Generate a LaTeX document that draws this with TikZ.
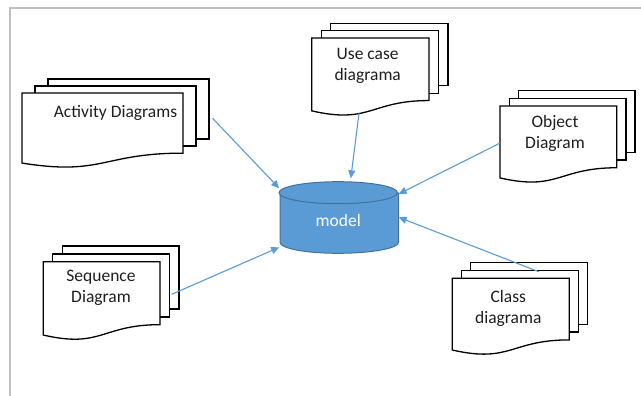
\documentclass[tikz,border=0pt]{standalone}
\usepackage{fontspec}
\setmainfont{Carlito}
\usetikzlibrary{arrows.meta}

\definecolor{modelblue}{HTML}{5B9BD5}
\definecolor{modeledge}{HTML}{41719C}
\definecolor{framegray}{HTML}{BFBFBF}
\definecolor{inkgray}{HTML}{1F1F1F}

\tikzset{
  page/.style={draw=black, line width=1.3pt, line join=miter, fill=white},
  doctext/.style={font=\fontsize{17.5}{20.5}\selectfont, align=center,
                  text=inkgray, inner sep=0pt},
  feed/.style={draw=modelblue, line width=1.1pt,
               -{Triangle[length=8pt,width=7pt]}},
}

% A stack of three document pages.
% #1 x, #2 y of the front page's top-left corner, #3 width, #4 height,
% #5 #6 horizontal / vertical offset between the pages
\newcommand\docstack[6]{%
  \pgfmathsetmacro\dsR{0.802*#4}%
  \pgfmathsetmacro\dsL{0.934*#4}%
  \pgfmathsetmacro\dsC{1.1075*#4}%
  \pgfmathsetmacro\dsM{0.5*#3}%
  \begin{scope}[shift={(#1,#2)}]
    % back page
    \draw[page] ({2*#5},{-#6}) -- ({2*#5},{-2*#6}) -- ({#3+2*#5},{-2*#6})
      -- ({#3+2*#5},{\dsR-2*#6}) -- ({#3+#5},{\dsR-2*#6});
    % middle page
    \draw[page] ({#5},0) -- ({#5},{-#6}) -- ({#3+#5},{-#6})
      -- ({#3+#5},{\dsR-#6}) -- (#3,{\dsR-#6});
    % front page with wavy bottom edge
    \draw[page] (0,0) -- (#3,0) -- (#3,\dsR)
      .. controls (\dsM,\dsR) and (\dsM,\dsC) .. (0,\dsL) -- cycle;
  \end{scope}%
}

\begin{document}
\begin{tikzpicture}[x=1pt, y=-1pt]
  \useasboundingbox (0,0) rectangle (641,396);
  \fill[white] (0,0) rectangle (641,396);

  % frame
  \draw[framegray, line width=2pt] (9.5,396) -- (9.5,8) -- (641,8);

  % document stacks
  \docstack{22}{93}{161}{75}{13}{7}
  \docstack{311.7}{38}{117.3}{78}{9.5}{7.4}
  \docstack{500}{106}{116.7}{77}{9.2}{7.7}
  \docstack{43.3}{261.7}{116.7}{78.5}{9.5}{7.8}
  \docstack{452.3}{278.3}{117}{76.8}{9.2}{7.8}

  \node[doctext] (act) at (115.5,113) {Activity Diagrams};
  \node[doctext] (use) at (367.7,66) {Use case\\diagrama};
  \node[doctext] (obj) at (555,133.5) {Object\\Diagram};
  \node[doctext] (seq) at (101,288) {Sequence\\Diagram};
  \node[doctext] (cls) at (508.3,308.5) {Class\\diagrama};

  % model cylinder
  \fill[modelblue] (280,192.7) -- (280,242.3)
    .. controls (280,248.4) and (305.5,253.3) .. (338.25,253.3)
    .. controls (371,253.3) and (398.5,248.4) .. (398.5,242.3)
    -- (398.5,192.7) -- cycle;
  \draw[modeledge, line width=1pt] (280,192.7) -- (280,242.3)
    .. controls (280,248.4) and (305.5,253.3) .. (338.25,253.3)
    .. controls (371,253.3) and (398.5,248.4) .. (398.5,242.3)
    -- (398.5,192.7);
  \draw[modeledge, line width=1pt, fill=modelblue]
    (338.25,192.7) ellipse [x radius=59.25, y radius=11];
  \node[font=\fontsize{17.5}{20.5}\selectfont, text=white, inner sep=0pt]
    (mdl) at (338.25,220) {model};

  % connector end points
  \coordinate (act-out) at (212.6,118.3);
  \coordinate (use-out) at (359,113.3);
  \coordinate (obj-out) at (499.6,143.3);
  \coordinate (cls-out) at (538.8,271.7);
  \coordinate (seq-out) at (171.7,294.3);
  \coordinate (mdl-act) at (279.2,188.3);
  \coordinate (mdl-use) at (350.8,178.3);
  \coordinate (mdl-obj) at (398.6,194);
  \coordinate (mdl-cls) at (398.6,217.3);
  \coordinate (mdl-seq) at (279.2,247.3);

  % connectors
  \draw[feed] (act-out) -- (mdl-act);
  \draw[feed] (use-out) -- (mdl-use);
  \draw[feed] (obj-out) -- (mdl-obj);
  \draw[feed] (cls-out) -- (mdl-cls);
  \draw[feed] (seq-out) -- (mdl-seq);
\end{tikzpicture}
\end{document}
